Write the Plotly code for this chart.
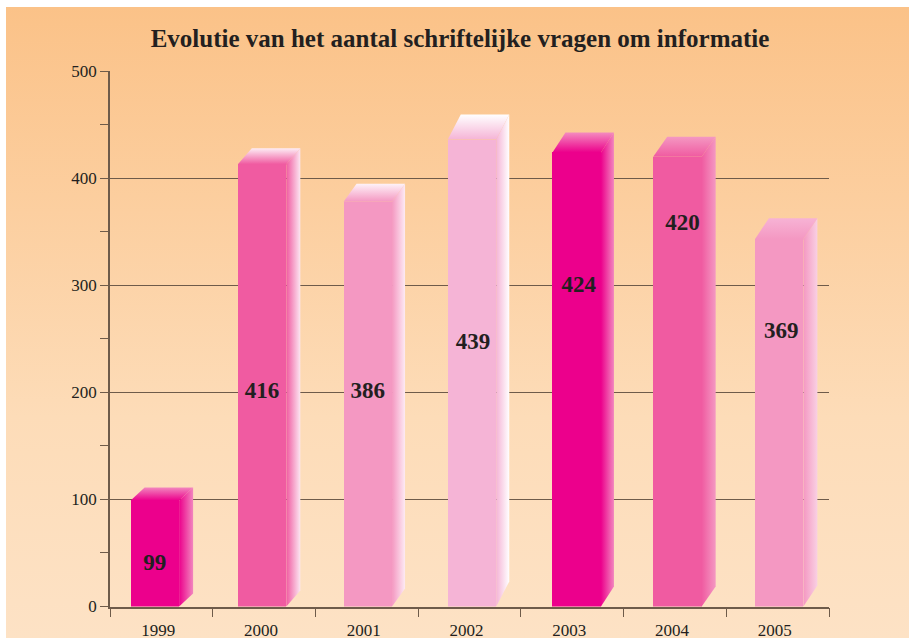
import plotly.graph_objects as go

# ---- data ----
years = [1999, 2000, 2001, 2002, 2003, 2004, 2005]
labels = [99, 416, 386, 439, 424, 420, 369]
# heights as actually drawn in the picture (they differ a little from the printed labels)
drawn = [99, 413, 378, 436, 424, 420, 343]
yticks = [0, 100, 200, 300, 400, 500]
title = "Evolutie van het aantal schriftelijke vragen om informatie"

# ---- style / layout ----
W, H = 909, 638
PX_L, PX_R, PX_T, PX_B = 110, 829, 71, 606.5
PX_PER_YEAR = (PX_R - PX_L) / 7
PX_PER_UNIT = (PX_B - PX_T) / 500
bar_shift_px = [-6.5, -2, 1, 2.5, 4.5, 2.5, 1.5]
label_shift_px = [-6.5, -2, 1, 3.5, 6.5, 7.5, 3.5]
label_y = [39, 200, 200, 246, 299, 357, 256]
depth_dx = [14, 14, 13, 13, 13, 14, 14]
depth_dy = [13, 16, 18, 25, 20, 20, 21]
BAR_W_PX = 48.5
front = ["#EC008C", "#F05BA1", "#F498C2", "#F5B4D6", "#EC008C", "#F05BA1", "#F498C2"]
side_end = ["#F286BE", "#FCE6F1", "#FDEAF3", "#FFFFFF", "#F286BE", "#F498C2", "#F9D0E3"]
top_back = ["#F286BE", "#FDEEF5", "#FEF3F8", "#FFFFFF", "#F48CBF", "#F498C2", "#F7B3D5"]
GRID = "#6E5B4A"
INK = "#231F20"
SERIF = "Liberation Serif"

fig = go.Figure()

# page background gradient, on its own full-page axes
fig.add_trace(go.Scatter(
    x=[6, W, W, 6, 6], y=[0, 0, H - 7, H - 7, 0], xaxis="x", yaxis="y",
    mode="lines", line=dict(width=0), fill="toself", hoverinfo="skip", showlegend=False,
    fillgradient=dict(type="vertical", colorscale=[[0, "#FDE2C5"], [0.35, "#FDDCB8"], [1, "#FBC288"]]),
))

xs = [y + s / PX_PER_YEAR for y, s in zip(years, bar_shift_px)]
half = BAR_W_PX / PX_PER_YEAR / 2

# right side and top faces
for x, h, dx, dy, f, se, tb in zip(xs, drawn, depth_dx, depth_dy, front, side_end, top_back):
    ddx, ddy = dx / PX_PER_YEAR, dy / PX_PER_UNIT
    xl, xr = x - half, x + half
    fig.add_trace(go.Scatter(
        x=[xr, xr + ddx, xr + ddx, xr, xr], y=[0, ddy, h + ddy, h, 0], xaxis="x2", yaxis="y2",
        mode="lines", line=dict(width=0), fill="toself", hoverinfo="skip", showlegend=False,
        fillgradient=dict(type="horizontal", colorscale=[[0, f], [1, se]]),
    ))
    fig.add_trace(go.Scatter(
        x=[xl, xl + ddx, xr + ddx, xr, xl], y=[h, h + ddy, h + ddy, h, h], xaxis="x2", yaxis="y2",
        mode="lines", line=dict(width=0), fill="toself", hoverinfo="skip", showlegend=False,
        fillgradient=dict(type="vertical", colorscale=[[0, f], [1, tb]]),
    ))

# front faces
fig.add_trace(go.Bar(
    x=xs, y=drawn, xaxis="x2", yaxis="y2", width=BAR_W_PX / PX_PER_YEAR,
    marker=dict(color=front, line=dict(width=0)), showlegend=False,
))

# printed values
fig.add_trace(go.Scatter(
    x=[y + s / PX_PER_YEAR for y, s in zip(years, label_shift_px)], y=label_y,
    xaxis="x2", yaxis="y2", mode="text", text=[str(v) for v in labels],
    textposition="middle center", showlegend=False,
    textfont=dict(family=SERIF, size=23, color=INK, weight="bold"),
))

fig.update_layout(
    width=W, height=H, margin=dict(l=0, r=0, t=0, b=0, pad=0, autoexpand=False),
    paper_bgcolor="white", plot_bgcolor="rgba(0,0,0,0)", bargap=0,
    showlegend=False,
    title=dict(text=title, x=460 / W, y=1 - 38 / H, xanchor="center", yanchor="middle",
               font=dict(family=SERIF, size=25, color=INK, weight="bold")),
    xaxis=dict(domain=[0, 1], range=[0, W], visible=False, fixedrange=True),
    yaxis=dict(domain=[0, 1], range=[0, H], visible=False, fixedrange=True),
    xaxis2=dict(
        domain=[PX_L / W, PX_R / W], range=[years[0] - 0.5, years[-1] + 0.5], anchor="y2",
        tickmode="array", tickvals=years, ticktext=[str(y) for y in years],
        ticks="", ticklabelshift=-3, ticklabelstandoff=7, showgrid=False, zeroline=False,
        showline=True, linecolor=GRID, linewidth=1.5,
        tickfont=dict(family=SERIF, size=17, color=INK),
        minor=dict(tickmode="array", tickvals=[years[0] - 0.5] + [y + 0.5 for y in years],
                   ticks="outside", ticklen=9, tickwidth=1, tickcolor=GRID, showgrid=False),
    ),
    yaxis2=dict(
        domain=[1 - PX_B / H, 1 - PX_T / H], range=[0, 500], anchor="x2",
        tickmode="array", tickvals=yticks, ticks="outside", ticklen=8, tickwidth=1, tickcolor=GRID,
        showgrid=True, gridcolor=GRID, gridwidth=1, zeroline=False,
        showline=True, linecolor=GRID, linewidth=1.5,
        tickfont=dict(family=SERIF, size=17, color=INK),
        minor=dict(dtick=50, ticks="outside", ticklen=8, tickwidth=1, tickcolor=GRID, showgrid=False),
    ),
)

fig.write_html("out.html", config={"displayModeBar": False},
               post_script="document.body.style.margin='0';")
